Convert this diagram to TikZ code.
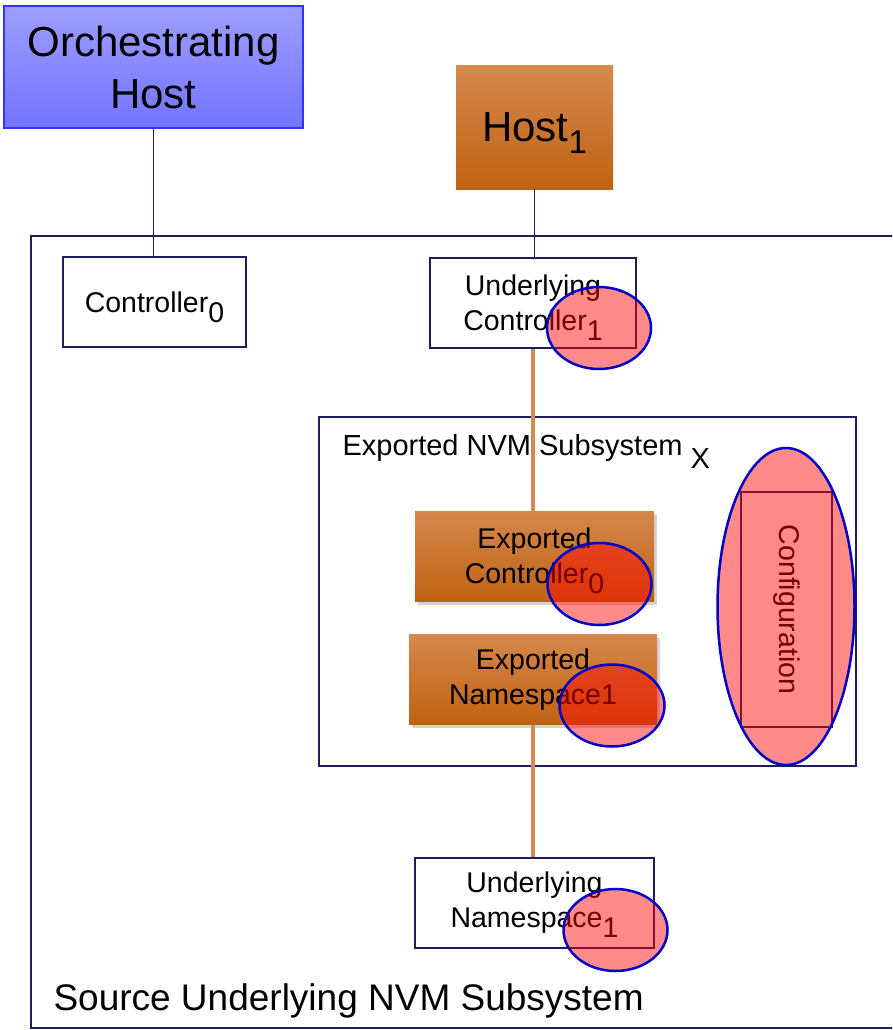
\documentclass[tikz,border=0pt]{standalone}
\usepackage{fontspec}
\setmainfont{Liberation Sans}
\usetikzlibrary{positioning, shapes.geometric, shadows}
\definecolor{navyline}{RGB}{30,30,90}
\definecolor{orchtop}{RGB}{157,157,255}
\definecolor{orchbot}{RGB}{116,116,255}
\definecolor{orchedge}{RGB}{51,51,255}
\definecolor{hosttop}{RGB}{213,136,78}
\definecolor{hostbot}{RGB}{192,98,18}
\definecolor{linkorange}{RGB}{216,137,80}
\definecolor{spotedge}{RGB}{0,0,200}
\newcommand{\lowsub}[1]{\raisebox{-10pt}[0pt][0pt]{#1}}

\begin{document}
\begin{tikzpicture}[
    x=1pt, y=-1pt,
    hostbox/.style={
        rectangle, inner sep=0pt, align=center,
        font=\fontsize{42}{52}\selectfont
    },
    plainbox/.style={
        draw=navyline, line width=2pt, fill=white, inner sep=0pt,
        align=center, font=\fontsize{28.5}{35}\selectfont
    },
    exportbox/.style={
        top color=hosttop, bottom color=hostbot, inner sep=0pt,
        align=center, font=\fontsize{28.5}{35}\selectfont,
        drop shadow={shadow xshift=3pt, shadow yshift=-4pt, opacity=0.35}
    },
    redspot/.style={
        ellipse, draw=spotedge, line width=2.5pt, fill=red,
        fill opacity=0.46, inner sep=0pt
    },
    link/.style={navyline, line width=1.2pt},
    orangelink/.style={linkorange, line width=4pt}
]
\clip (0,0) rectangle (892,1030);

% SOURCE SUBSYSTEM - outer frame, runs past the right edge
\node[draw=navyline, line width=2pt, minimum width=880pt, minimum height=792pt,
    inner sep=0pt] (srcsub) at (471,632) {};
\node[anchor=base west, font=\fontsize{37}{44}\selectfont] (srclabel)
    at (50,1010) {Source Underlying NVM Subsystem};

% HOSTS
\node[hostbox, draw=orchedge, line width=1.5pt, top color=orchtop, bottom color=orchbot,
    minimum width=299pt, minimum height=122pt] (orch) at (153.5,67) {Orchestrating\\Host};
\node[hostbox, top color=hosttop, bottom color=hostbot,
    minimum width=157pt, minimum height=123pt] (host1) at (534.5,127.5)
    {Host\raisebox{-12pt}[0pt][0pt]{\fontsize{33}{33}\selectfont 1}};

% CONTROLLERS
\node[plainbox, minimum width=183pt, minimum height=90pt] (ctrl0) at (154.5,302)
    {Controller\lowsub{0}};
\node[plainbox, minimum width=206pt, minimum height=90pt] (uctrl1) at (533,303)
    {Underlying\\Controller\lowsub{1}};

% EXPORTED NVM SUBSYSTEM
\node[draw=navyline, line width=2pt, minimum width=537pt, minimum height=349pt,
    inner sep=0pt] (expsub) at (587.5,591.5) {};
\node[anchor=base west, font=\fontsize{29}{35}\selectfont] (expsubtitle) at (339,455)
    {Exported NVM Subsystem \raisebox{-13pt}[0pt][0pt]{X}};
\node[exportbox, minimum width=239pt, minimum height=90pt] (ectrl0) at (534.5,556)
    {Exported\\Controller\lowsub{0}};
\node[exportbox, minimum width=248pt, minimum height=90pt, below=33pt of ectrl0,
    xshift=-1.5pt] (ens1) {Exported\\Namespace1};
\node[plainbox, rotate=-90, minimum width=235pt, minimum height=91pt] (configbox)
    at (786.5,609.5) {Configuration};

% UNDERLYING NAMESPACE
\node[plainbox, minimum width=239pt, minimum height=90pt, below=132pt of ens1,
    xshift=1.5pt] (uns1) {Underlying\\Namespace\lowsub{1}};

% CONNECTORS
\draw[link] (orch.south) -- (orch.south |- ctrl0.north);
\draw[link] (host1.south) -- (host1.south |- uctrl1.north);
\draw[orangelink] (uctrl1.south) -- (uctrl1.south |- ectrl0.north);
\draw[orangelink] (ens1.south) -- (ens1.south |- uns1.north);

% HIGHLIGHT SPOTS
\node[redspot, minimum width=104pt, minimum height=82pt] (spot1) at (599,328) {};
\node[redspot, minimum width=104pt, minimum height=82pt] (spot2) at (599.5,584) {};
\node[redspot, minimum width=105pt, minimum height=82pt] (spot3) at (612,705.5) {};
\node[redspot, minimum width=104pt, minimum height=82pt] (spot4) at (615.5,930) {};
\node[redspot, minimum width=137pt, minimum height=317pt] (spot5) at (786,606.5) {};

\end{tikzpicture}
\end{document}
